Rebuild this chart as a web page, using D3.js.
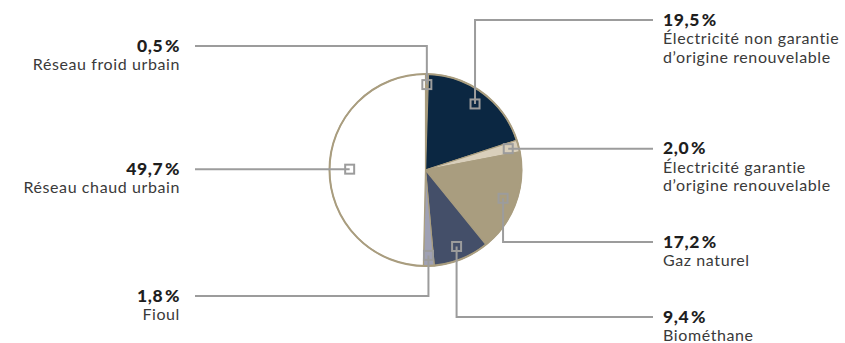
<!DOCTYPE html>
<html>
<head>
<meta charset="utf-8">
<script src="https://cdn.jsdelivr.net/npm/d3@7"></script>
<style>
  html, body { margin: 0; padding: 0; background: #ffffff; }
  svg { display: block; }
</style>
</head>
<body>
<svg id="chart" width="845" height="343"></svg>
<script>
// ---- Data ----
const categories = [
  "Réseau froid urbain",
  "Électricité non garantie d'origine renouvelable",
  "Électricité garantie d'origine renouvelable",
  "Gaz naturel",
  "Biométhane",
  "Fioul",
  "Réseau chaud urbain"
];
const values = [0.5, 19.5, 2.0, 17.2, 9.4, 1.8, 49.7];
const valueLabels = ["0,5\u200A%", "19,5\u200A%", "2,0\u200A%", "17,2\u200A%", "9,4\u200A%", "1,8\u200A%", "49,7\u200A%"];
const labelLines = [
  ["Réseau froid urbain"],
  ["Électricité non garantie", "d’origine renouvelable"],
  ["Électricité garantie", "d’origine renouvelable"],
  ["Gaz naturel"],
  ["Biométhane"],
  ["Fioul"],
  ["Réseau chaud urbain"]
];
const colors = ["#a99d7f", "#0b2742", "#d9cfbb", "#a99d7f", "#444f69", "#9fa1b4", "#ffffff"];

// ---- Layout (not data) ----
const W = 845, H = 343;
const cx = 425.5, cy = 170, R = 96;
const leftEdge = 195, rightEdge = 653;
const leftTextX = 180, rightTextX = 663;
const labelSide = ["left", "right", "right", "right", "right", "left", "left"];
const labelY = [46, 20, null, 242, 317, 296, null];

const svg = d3.select("#chart");
const g = svg.append("g");

const pie = d3.pie().sort(null).value(d => d).startAngle(0).endAngle(2 * Math.PI);
const arcs = pie(values);
const arc = d3.arc().innerRadius(0).outerRadius(R);

g.append("g").attr("transform", `translate(${cx},${cy})`)
  .selectAll("path").data(arcs).enter().append("path")
  .attr("d", arc)
  .attr("fill", (d, i) => colors[i])
  .attr("stroke", "#a99d7f")
  .attr("stroke-width", 1.2)
  .attr("stroke-linejoin", "round");

g.append("circle").attr("cx", cx).attr("cy", cy).attr("r", R)
  .attr("fill", "none").attr("stroke", "#a99d7f").attr("stroke-width", 2);

const lineColor = "#9c9c9c";
const markers = arcs.map((a, i) => {
  const mid = (a.startAngle + a.endAngle) / 2;
  const span = a.endAngle - a.startAngle;
  const r = span < 0.3 ? R * 0.89 : (span > 2 ? R * 0.79 : R * 0.86);
  return { x: cx + r * Math.sin(mid), y: cy - r * Math.cos(mid) };
});

const leaders = g.append("g");
arcs.forEach((a, i) => {
  const m = markers[i];
  const ly = labelY[i] == null ? m.y : labelY[i];
  const ex = labelSide[i] === "left" ? leftEdge : rightEdge;
  const pts = [[m.x, m.y], [m.x, ly], [ex, ly]];
  leaders.append("path")
    .attr("d", d3.line()(pts))
    .attr("fill", "none")
    .attr("stroke", lineColor)
    .attr("stroke-width", 2);
});
arcs.forEach((a, i) => {
  const m = markers[i];
  leaders.append("rect")
    .attr("x", m.x - 4.5).attr("y", m.y - 4.5)
    .attr("width", 9).attr("height", 9)
    .attr("fill", "none")
    .attr("stroke", lineColor).attr("stroke-width", 2);
});

const labels = g.append("g").attr("font-family", "Lato, 'Open Sans', sans-serif");
arcs.forEach((a, i) => {
  const m = markers[i];
  const ly = labelY[i] == null ? m.y : labelY[i];
  const left = labelSide[i] === "left";
  const tx = left ? leftTextX : rightTextX;
  const anchor = left ? "end" : "start";
  labels.append("text")
    .attr("x", tx).attr("y", ly + 5.5)
    .attr("text-anchor", anchor)
    .attr("font-size", 17.5).attr("font-weight", 900)
    .attr("letter-spacing", 0.6)
    .attr("fill", "#1e1e1e")
    .text(valueLabels[i]);
  labelLines[i].forEach((t, k) => {
    labels.append("text")
      .attr("x", tx).attr("y", ly + 24 + k * 18.5)
      .attr("text-anchor", anchor)
      .attr("font-size", 16)
      .attr("letter-spacing", 0.6)
      .attr("fill", "#3a3a3a")
      .text(t);
  });
});
</script>
</body>
</html>
